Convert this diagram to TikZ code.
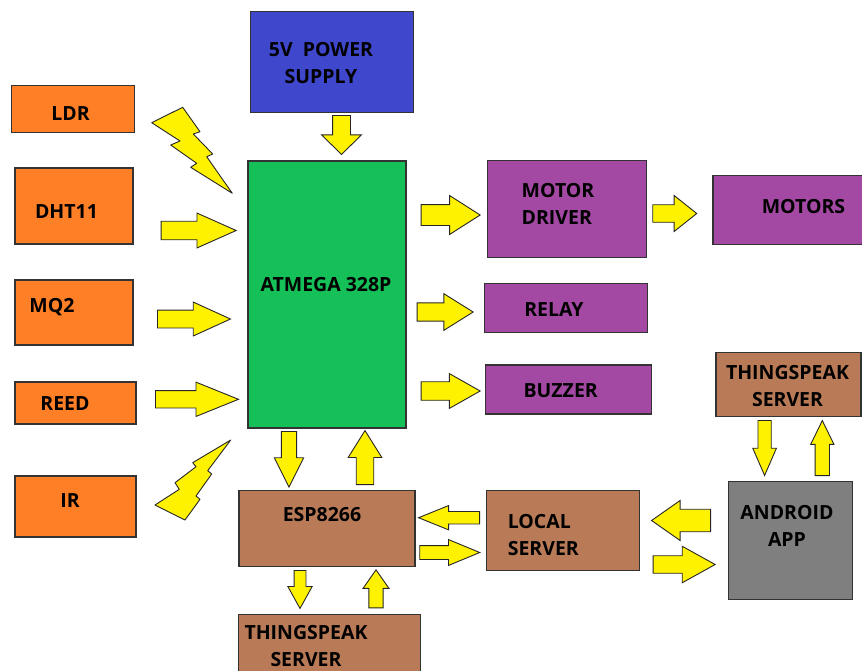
\documentclass[tikz,border=0pt]{standalone}
\usepackage{fontspec}
\setmainfont{Open Sans}
\usetikzlibrary{shapes,shapes.arrows}

\definecolor{orng}{RGB}{255,127,39}
\definecolor{pwrblue}{RGB}{63,72,204}
\definecolor{mcugreen}{RGB}{22,192,88}
\definecolor{purp}{RGB}{163,73,164}
\definecolor{brwn}{RGB}{185,122,87}
\definecolor{gry}{RGB}{127,127,127}
\definecolor{yel}{RGB}{255,242,0}

\begin{document}
\begin{tikzpicture}[x=1pt,y=-1pt]
   \clip (0,0) rectangle (862,670);
   \tikzstyle{blk}=[rectangle, draw=black!80, line width=1.1pt, inner sep=0pt]
   \tikzstyle{txt}=[font=\bfseries\fontsize{19.5}{27}\selectfont, align=center, inner sep=0pt]
   \tikzstyle{flow}=[single arrow, draw=black!85, line width=0.9pt, fill=yel, inner xsep=0pt, anchor=tail]
   \tikzstyle{bolt}=[draw=black!85, line width=0.9pt, fill=yel, line join=round]
   % sensors
   \node[blk, fill=orng, minimum width=123pt, minimum height=47pt] (ldr) at (73.3,109.2) {};
   \node[blk, fill=orng, minimum width=118pt, minimum height=76pt] (dht) at (74,206) {};
   \node[blk, fill=orng, minimum width=118pt, minimum height=65pt] (mq) at (74,312.5) {};
   \node[blk, fill=orng, minimum width=121pt, minimum height=42pt] (reed) at (75.5,403) {};
   \node[blk, fill=orng, minimum width=121pt, minimum height=61pt] (ir) at (75.5,506.5) {};
   \node[txt] (ldr-t) at (70.5,113.7) {LDR};
   \node[txt] (dht-t) at (66.5,212) {DHT11};
   \node[txt] (mq-t) at (52,307) {MQ2};
   \node[txt] (reed-t) at (65,404) {REED};
   \node[txt] (ir-t) at (70,501) {IR};
   % controller and supply
   \node[blk, fill=pwrblue, minimum width=163pt, minimum height=101pt] (pwr) at (331.7,62.2) {};
   \node[txt] (pwr-t) at (321,63) {5V\ \ POWER\\SUPPLY};
   \node[blk, fill=mcugreen, minimum width=158pt, minimum height=267pt] (atm) at (327,294.5) {};
   \node[txt] (atm-t) at (326,285) {ATMEGA 328P};
   % outputs
   \node[blk, fill=purp, minimum width=159pt, minimum height=97pt] (drv) at (567,208.7) {};
   \node[txt, align=left] (drv-t) at (558,204) {MOTOR\\DRIVER};
   \node[blk, fill=purp, minimum width=150pt, minimum height=69pt] (mot) at (788,209.7) {};
   \node[txt] (mot-t) at (803.5,207) {MOTORS};
   \node[blk, fill=purp, minimum width=163pt, minimum height=49pt] (rly) at (566.4,308) {};
   \node[txt] (rly-t) at (554,309.7) {RELAY};
   \node[blk, fill=purp, minimum width=166pt, minimum height=49pt] (buz) at (568.9,389.5) {};
   \node[txt] (buz-t) at (560.7,391) {BUZZER};
   % network side
   \node[blk, fill=brwn, minimum width=145pt, minimum height=64pt] (tsr) at (788.5,384.3) {};
   \node[txt] (tsr-t) at (787.5,386.5) {THINGSPEAK\\SERVER};
   \node[blk, fill=gry, minimum width=124pt, minimum height=118pt] (app) at (790.2,540.8) {};
   \node[txt] (app-t) at (787,525.5) {ANDROID\\APP};
   \node[blk, fill=brwn, minimum width=176pt, minimum height=76pt] (esp) at (327,528.8) {};
   \node[txt] (esp-t) at (322,515) {ESP8266};
   \node[blk, fill=brwn, minimum width=153pt, minimum height=80pt] (lcl) at (562.7,530.8) {};
   \node[txt, align=left] (lcl-t) at (543.3,534.7) {LOCAL\\SERVER};
   \node[blk, fill=brwn, minimum width=182pt, minimum height=80pt] (tsb) at (329.2,654.3) {};
   \node[txt] (tsb-t) at (306,646) {THINGSPEAK\\SERVER};
   % block arrows, placed by their tails
   \node[flow, minimum height=39pt, inner ysep=8.5pt, single arrow head extend=11pt, single arrow tip angle=91, rotate=-90] (pwr-atm) at (341.5,115) {};
   \node[flow, minimum height=75pt, inner ysep=8.8pt, single arrow head extend=8.2pt, single arrow tip angle=48] (dht-atm) at (160.7,230.5) {};
   \node[flow, minimum height=73pt, inner ysep=8.5pt, single arrow head extend=8pt, single arrow tip angle=49] (mq-atm) at (157,319) {};
   \node[flow, minimum height=83pt, inner ysep=8.2pt, single arrow head extend=8.5pt, single arrow tip angle=44] (reed-atm) at (155,399.3) {};
   \node[flow, minimum height=59pt, inner ysep=10pt, single arrow head extend=9pt, single arrow tip angle=65] (atm-drv) at (420.7,215) {};
   \node[flow, minimum height=44pt, inner ysep=8.3pt, single arrow head extend=9.2pt, single arrow tip angle=77] (drv-mot) at (652.3,213.5) {};
   \node[flow, minimum height=56pt, inner ysep=8.7pt, single arrow head extend=9.1pt, single arrow tip angle=64] (atm-rly) at (416.7,312) {};
   \node[flow, minimum height=59pt, inner ysep=8.8pt, single arrow head extend=8.2pt, single arrow tip angle=59] (atm-buz) at (420.7,391) {};
   \node[flow, minimum height=55.7pt, inner ysep=7.2pt, single arrow head extend=7pt, single arrow tip angle=53, rotate=-90] (atm-esp) at (289,431) {};
   \node[flow, minimum height=54pt, inner ysep=8.3pt, single arrow head extend=8.1pt, single arrow tip angle=64, rotate=90] (esp-atm) at (365,485) {};
   \node[flow, minimum height=61pt, inner ysep=5.8pt, single arrow head extend=5.9pt, single arrow tip angle=44, rotate=180] (lcl-esp) at (480,517.7) {};
   \node[flow, minimum height=60pt, inner ysep=6.5pt, single arrow head extend=6pt, single arrow tip angle=45] (esp-lcl) at (419.3,552.5) {};
   \node[flow, minimum height=38pt, inner ysep=5.5pt, single arrow head extend=6.2pt, single arrow tip angle=58, rotate=-90] (esp-tsb) at (300,570) {};
   \node[flow, minimum height=38pt, inner ysep=6.7pt, single arrow head extend=5.8pt, single arrow tip angle=70, rotate=90] (tsb-esp) at (376,608.3) {};
   \node[flow, minimum height=59pt, inner ysep=10.8pt, single arrow head extend=8.7pt, single arrow tip angle=70, rotate=180] (app-lcl) at (711,520.5) {};
   \node[flow, minimum height=62pt, inner ysep=8.3pt, single arrow head extend=9.5pt, single arrow tip angle=58] (lcl-app) at (652.7,564.5) {};
   \node[flow, minimum height=55pt, inner ysep=6.2pt, single arrow head extend=5.2pt, single arrow tip angle=47, rotate=-90] (tsr-app) at (764.6,420) {};
   \node[flow, minimum height=55pt, inner ysep=6.7pt, single arrow head extend=4.5pt, single arrow tip angle=52, rotate=90] (app-tsr) at (822.3,476) {};
   % wireless links
   \draw[bolt] (151.7,122.7) -- (182.7,107.3) -- (200,131.7) -- (193.3,134) -- (212.7,154) -- (206.7,156.7) -- (232.3,193.3)
      -- (190.7,167.3) -- (196.7,163.3) -- (170.7,145) -- (180,141) -- cycle;
   \draw[bolt] (230.7,440) -- (192.7,462.7) -- (196,466.7) -- (175,482.7) -- (179.3,489.3) -- (155,505)
      -- (185,520) -- (200,499.3) -- (196,496) -- (211.7,474) -- (207.7,470.7) -- cycle;
\end{tikzpicture}
\end{document}
